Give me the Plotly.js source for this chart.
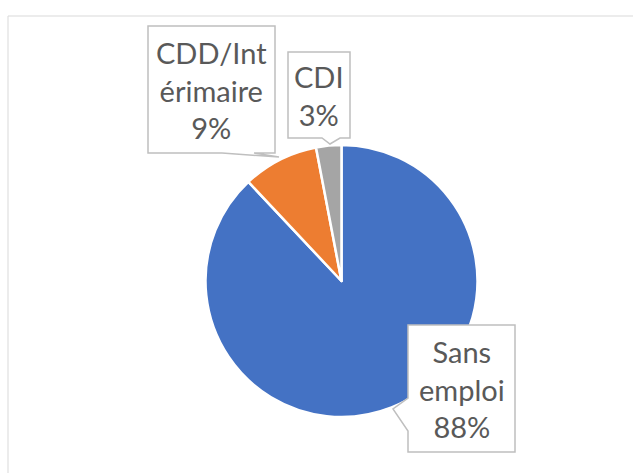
<!DOCTYPE html>
<html>
<head>
<meta charset="utf-8">
<script src="https://cdn.plot.ly/plotly-3.0.1.min.js"></script>
<style>html,body{margin:0;padding:0;background:#fff;}#chart{width:633px;height:473px;}</style>
</head>
<body>
<div id="chart"></div>
<script>
const categories = ["Sans emploi", "CDD/Intérimaire", "CDI"];
const labelLines = [["Sans", "emploi"], ["CDD/Int", "érimaire"], ["CDI"]];
const values = [88, 9, 3];
const colors = ["#4472C4", "#ED7D31", "#A5A5A5"];

const W = 633, H = 473;
const px = x => x / W;
const py = y => 1 - y / H;

const cx = 341.5, cy = 281, R = 136;
const total = values.reduce((a, b) => a + b, 0);
const pct = values.map(v => Math.round(v / total * 100) + "%");

const trace = {
  type: "pie",
  labels: categories,
  values: values,
  sort: false,
  direction: "clockwise",
  rotation: 0,
  textinfo: "none",
  hoverinfo: "none",
  showlegend: false,
  marker: { colors: colors, line: { color: "#FFFFFF", width: 2.5 } },
  domain: { x: [px(cx - R), px(cx + R)], y: [py(cy + R), py(cy - R)] }
};

function poly(pts) {
  return "M " + pts.map(p => px(p[0]) + "," + py(p[1])).join(" L ") + " Z";
}
const calloutStyle = { type: "path", xref: "paper", yref: "paper", fillcolor: "#FFFFFF", line: { color: "#BFBFBF", width: 1.5 }, layer: "above" };

const shapes = [
  { type: "rect", xref: "paper", yref: "paper", x0: px(8), y0: py(16), x1: px(660), y1: py(500), line: { color: "#D9D9D9", width: 1 }, fillcolor: "rgba(0,0,0,0)", layer: "below" },
  Object.assign({}, calloutStyle, { path: poly([[408,325],[515,325],[515,452],[408,452],[408,431],[393,409],[408,398]]) }),
  Object.assign({}, calloutStyle, { path: poly([[148,26],[275,26],[275,153],[254,153],[279,157],[222,153],[148,153]]) }),
  Object.assign({}, calloutStyle, { path: poly([[288,52],[350,52],[350,138],[340,138],[330,144],[322,138],[288,138]]) })
];

const boxCenters = [[461.5, 389], [211.5, 90], [319, 95]];
const font = { family: "Lato, 'Open Sans', sans-serif", size: 29, color: "#595959" };
const annotations = categories.map((c, i) => ({
  xref: "paper", yref: "paper",
  x: px(boxCenters[i][0]), y: py(boxCenters[i][1]),
  xanchor: "center", yanchor: "middle",
  text: labelLines[i].concat([pct[i]]).join("<br>"),
  showarrow: false, align: "center", font: font
}));

Plotly.newPlot("chart", [trace], {
  width: W, height: H,
  margin: { l: 0, r: 0, t: 0, b: 0 },
  paper_bgcolor: "#FFFFFF",
  shapes: shapes,
  annotations: annotations
}, { staticPlot: true });
</script>
</body>
</html>
